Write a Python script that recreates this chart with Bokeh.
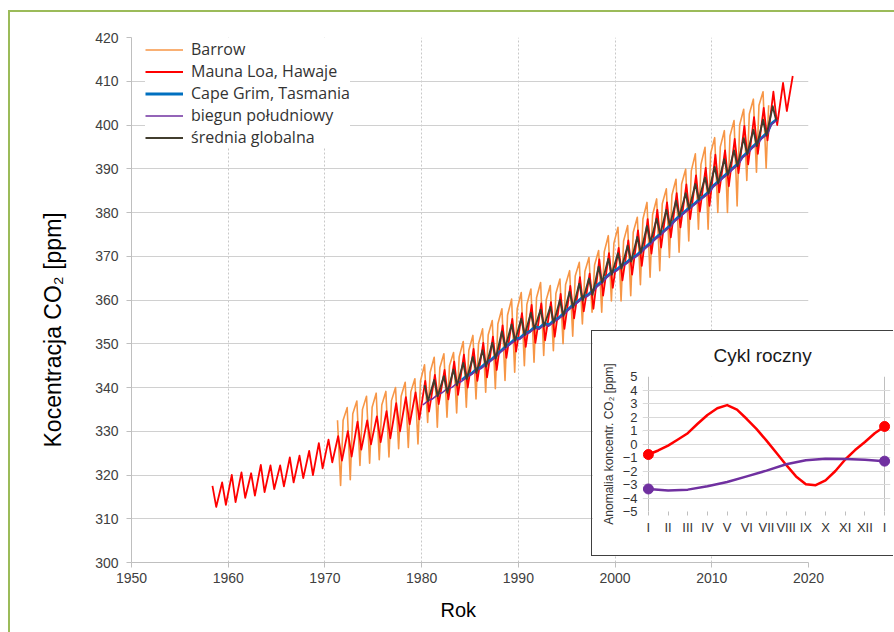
from bokeh.plotting import figure
from bokeh.models import Range1d, FixedTicker, Legend, LegendItem, Title
from bokeh.layouts import column
from bokeh.embed import file_html
from bokeh.resources import INLINE

# ---------------- main chart data ----------------
X_TICKS = [1950, 1960, 1970, 1980, 1990, 2000, 2010, 2020]
Y_TICKS = [300, 310, 320, 330, 340, 350, 360, 370, 380, 390, 400, 410, 420]

# Mauna Loa, Hawaje: yearly maximum (May) and minimum (Sep/Oct), from 1958
ML_FIRST_YEAR = 1958
ML_PEAK = [317.5, 318.3, 320.0, 320.6, 320.4, 322.3, 322.2, 322.2, 324.0, 324.4,
           325.5, 327.3, 328.1, 328.9, 330.0, 332.2, 332.5, 333.4, 334.6, 336.4,
           337.8, 338.9, 341.5, 342.9, 344.0, 345.9, 347.5, 348.8, 350.2, 351.6,
           354.2, 355.7, 357.0, 358.9, 359.2, 359.5, 361.4, 363.2, 365.2, 366.0,
           369.3, 370.7, 371.9, 373.6, 375.9, 378.5, 380.6, 382.3, 384.4, 386.4,
           388.5, 390.2, 393.2, 394.2, 396.8, 399.8, 401.8, 403.9, 407.6, 409.6,
           411.2]
ML_TROUGH = [312.7, 313.2, 313.8, 314.8, 315.3, 316.1, 316.8, 317.4, 318.3, 319.3,
             320.0, 321.5, 322.9, 323.3, 324.2, 325.8, 327.0, 327.5, 328.4, 330.0,
             331.6, 332.7, 334.5, 336.2, 337.3, 338.3, 340.0, 341.5, 342.3, 344.0,
             346.8, 348.2, 349.3, 350.2, 350.8, 351.6, 353.4, 355.8, 357.4, 358.0,
             361.0, 362.8, 364.5, 365.8, 367.8, 370.6, 372.0, 374.3, 376.6, 378.5,
             380.2, 381.5, 384.6, 386.0, 389.0, 391.0, 393.4, 396.5, 400.0, 403.2]
ML_PEAK_POS, ML_TROUGH_POS = 0.37, 0.76

# Barrow: spring maximum, August minimum, November value, from 1971
BRW_FIRST_YEAR = 1971
BRW_PEAK = [332.5, 335.4, 336.9, 338.0, 338.7, 339.1, 340.0, 341.2, 342.0, 345.2,
            346.9, 347.7, 348.0, 350.5, 351.9, 353.4, 355.3, 358.0, 360.2, 361.7,
            362.5, 364.0, 363.3, 364.8, 366.7, 368.6, 369.7, 371.3, 374.7, 376.6,
            377.0, 378.9, 382.3, 383.1, 385.4, 387.6, 389.9, 393.4, 394.9, 397.1,
            398.7, 401.0, 403.6, 405.9, 407.6]
BRW_TROUGH = [317.6, 318.9, 322.2, 322.7, 323.5, 324.1, 326.0, 326.3, 327.1, 332.0,
              330.9, 333.2, 334.2, 335.5, 337.4, 338.9, 339.7, 341.6, 343.5, 345.0,
              345.8, 347.3, 348.4, 350.0, 351.7, 354.5, 357.2, 357.2, 359.8, 359.8,
              361.0, 363.5, 365.2, 366.7, 369.7, 370.9, 373.5, 376.2, 376.2, 380.0,
              380.0, 381.5, 387.3, 389.2, 390.1]
BRW_NOV = [332.5, 334.0, 335.0, 335.5, 336.0, 337.0, 338.0, 339.0, 341.5, 343.5,
           344.5, 345.0, 347.0, 348.5, 350.0, 352.0, 354.5, 356.5, 358.0, 359.0,
           360.5, 360.0, 361.5, 363.5, 365.5, 366.5, 368.0, 371.0, 373.0, 373.5,
           375.5, 378.5, 379.5, 382.0, 384.0, 386.5, 389.5, 391.0, 393.5, 395.0,
           397.5, 400.0, 402.5, 404.5, 404.5]
BRW_PEAK_POS, BRW_TROUGH_POS, BRW_NOV_POS = 0.30, 0.62, 0.88

# Cape Grim, Tasmania: summer minimum, spring maximum, from 1984
CGO_FIRST_YEAR = 1984
CGO_TROUGH = [341.7, 343.2, 344.6, 346.3, 348.3, 350.1, 351.3, 352.8, 353.6, 354.3,
              355.9, 357.9, 359.7, 361.1, 363.4, 365.4, 366.9, 368.5, 370.1, 372.1,
              374.1, 376.0, 378.2, 380.1, 381.9, 383.7, 386.1, 388.1, 390.1, 392.7,
              394.9, 397.1, 400.3]
CGO_PEAK = [342.8, 344.3, 345.7, 347.4, 349.4, 351.2, 352.4, 353.9, 354.7, 355.4,
            357.0, 359.0, 360.8, 362.2, 364.4, 366.5, 368.0, 369.6, 371.2, 373.2,
            375.2, 377.1, 379.3, 381.2, 383.0, 384.8, 387.2, 389.2, 391.2, 393.8,
            396.0, 398.2, 401.3]
CGO_TROUGH_POS, CGO_PEAK_POS = 0.16, 0.72

# biegun poludniowy (South Pole), from 1980
SPO_FIRST_YEAR = 1980
SPO_TROUGH = [336.0, 337.4, 338.8, 340.0, 341.4, 342.9, 344.3, 346.0, 348.0, 349.8,
              351.0, 352.5, 353.3, 354.0, 355.6, 357.6, 359.4, 360.8, 363.0, 365.1,
              366.6, 368.2, 369.8, 371.8, 373.8, 375.7, 377.9, 379.8, 381.6, 383.4,
              385.8, 387.8, 389.8, 392.4, 394.6, 396.8, 400.0]
SPO_PEAK = [337.1, 338.5, 339.9, 341.1, 342.5, 344.0, 345.4, 347.1, 349.1, 350.9,
            352.1, 353.6, 354.4, 355.1, 356.7, 358.7, 360.5, 361.9, 364.1, 366.2,
            367.7, 369.3, 370.9, 372.9, 374.9, 376.8, 379.0, 380.9, 382.7, 384.5,
            386.9, 388.9, 390.9, 393.5, 395.7, 397.9, 401.1]
SPO_TROUGH_POS, SPO_PEAK_POS = 0.12, 0.74

# srednia globalna, from 1980
GLB_FIRST_YEAR = 1980
GLB_PEAK = [340.5, 341.7, 342.6, 344.1, 345.6, 347.0, 348.5, 350.2, 352.8, 354.4,
            355.7, 357.1, 357.8, 358.4, 360.0, 361.9, 363.7, 364.9, 367.6, 369.4,
            370.7, 372.4, 374.4, 376.9, 378.6, 380.6, 382.7, 384.4, 386.5, 388.0,
            390.4, 392.2, 394.2, 397.0, 398.9, 401.2, 404.3]
GLB_TROUGH = [336.9, 338.0, 338.8, 340.5, 341.9, 343.3, 344.8, 346.6, 349.2, 350.7,
              352.0, 353.3, 354.0, 354.8, 356.4, 358.3, 359.9, 361.2, 364.0, 365.8,
              367.2, 368.8, 370.8, 373.2, 375.0, 377.0, 379.1, 380.8, 382.9, 384.4,
              386.7, 388.6, 390.6, 393.3, 395.2, 397.6, 401.0]
GLB_PEAK_POS, GLB_TROUGH_POS = 0.30, 0.66

# ---------------- inset data (annual cycle) ----------------
MONTH_TICKS = [0, 1, 2, 3, 4, 5, 6, 7, 8, 9, 10, 11, 12]
MONTH_LABELS = ["I", "II", "III", "IV", "V", "VI", "VII", "VIII", "IX", "X", "XI", "XII", "I"]
ANOM_TICKS = [-5, -4, -3, -2, -1, 0, 1, 2, 3, 4, 5]
ML_CYCLE_X = [0, 0.5, 1, 1.5, 2, 2.5, 3, 3.5, 4, 4.5, 5, 5.5, 6, 6.5, 7, 7.5, 8,
              8.5, 9, 9.5, 10, 10.5, 11, 11.5, 12]
ML_CYCLE = [-0.78, -0.48, -0.12, 0.33, 0.8, 1.5, 2.15, 2.65, 2.88, 2.55, 1.85, 1.1,
            0.25, -0.65, -1.55, -2.4, -2.98, -3.05, -2.7, -2.0, -1.15, -0.45, 0.15,
            0.8, 1.3]
SPO_CYCLE_X = MONTH_TICKS
SPO_CYCLE = [-3.33, -3.45, -3.38, -3.13, -2.82, -2.4, -1.97, -1.5, -1.2, -1.1,
             -1.12, -1.17, -1.27]

C_BRW = "#F79646"
C_ML = "#FF0000"
C_CGO = "#0070C0"
C_SPO = "#7030A0"
C_GLB = "#423D2E"
FONT = "Liberation Sans"


def series(first_year, parts):
    pts = []
    for offset, vals in parts:
        for i, v in enumerate(vals):
            pts.append((first_year + i + offset, v))
    pts.sort()
    return [q[0] for q in pts], [q[1] for q in pts]


# ---------------- main figure ----------------
p = figure(width=884, height=620, output_backend="svg", toolbar_location=None,
           x_range=Range1d(1950, 2020), y_range=Range1d(300, 420),
           min_border_left=121, min_border_right=86, min_border_top=25,
           min_border_bottom=70, background_fill_color="white",
           border_fill_color="white")
p.outline_line_color = None

bx, by = series(BRW_FIRST_YEAR, [(BRW_PEAK_POS, BRW_PEAK), (BRW_TROUGH_POS, BRW_TROUGH),
                                 (BRW_NOV_POS, BRW_NOV)])
mx, my = series(ML_FIRST_YEAR, [(ML_PEAK_POS, ML_PEAK), (ML_TROUGH_POS, ML_TROUGH)])
cx, cy = series(CGO_FIRST_YEAR, [(CGO_TROUGH_POS, CGO_TROUGH), (CGO_PEAK_POS, CGO_PEAK)])
sx, sy = series(SPO_FIRST_YEAR, [(SPO_TROUGH_POS, SPO_TROUGH), (SPO_PEAK_POS, SPO_PEAK)])
gx, gy = series(GLB_FIRST_YEAR, [(GLB_PEAK_POS, GLB_PEAK), (GLB_TROUGH_POS, GLB_TROUGH)])

r_brw = p.line(bx, by, line_color=C_BRW, line_width=1.6, line_join="round")
r_ml = p.line(mx, my, line_color=C_ML, line_width=1.8, line_join="round")
r_cgo = p.line(cx, cy, line_color=C_CGO, line_width=2.8, line_join="round")
r_spo = p.line(sx, sy, line_color=C_SPO, line_width=1.6, line_join="round")
r_glb = p.line(gx, gy, line_color=C_GLB, line_width=1.9, line_join="round")

p.xaxis.ticker = FixedTicker(ticks=X_TICKS)
p.yaxis.ticker = FixedTicker(ticks=Y_TICKS)
for ax in (p.xaxis, p.yaxis):
    ax.axis_line_color = "#BFBFBF"
    ax.major_tick_line_color = "#BFBFBF"
    ax.minor_tick_line_color = None
    ax.major_tick_in = 0
    ax.major_tick_out = 5
    ax.major_label_text_font = FONT
    ax.major_label_text_font_size = "14px"
    ax.major_label_text_color = "#404040"
p.xaxis.major_label_standoff = 5
p.yaxis.major_label_standoff = 8

p.xgrid.ticker = FixedTicker(ticks=X_TICKS)
p.ygrid.ticker = FixedTicker(ticks=Y_TICKS)
p.xgrid.grid_line_color = "#C8C8C8"
p.xgrid.grid_line_dash = "2 2"
p.ygrid.grid_line_color = "#D0D0D0"

p.add_layout(Title(text="Kocentracja CO₂ [ppm]", align="left", offset=115,
                   text_font=FONT, text_font_size="23px", text_font_style="normal",
                   text_color="black", standoff=53), "left")
p.add_layout(Title(text="Rok", align="left", offset=309,
                   text_font=FONT, text_font_size="20px", text_font_style="normal",
                   text_color="black", standoff=23), "below")

legend = Legend(items=[
    LegendItem(label="Barrow", renderers=[r_brw]),
    LegendItem(label="Mauna Loa, Hawaje", renderers=[r_ml]),
    LegendItem(label="Cape Grim, Tasmania", renderers=[r_cgo]),
    LegendItem(label="biegun południowy", renderers=[r_spo]),
    LegendItem(label="średnia globalna", renderers=[r_glb]),
], location=(14, 414))
legend.margin = 0
legend.padding = 2
legend.spacing = 0
legend.glyph_width = 38
legend.glyph_height = 21
legend.label_height = 21
legend.label_standoff = 8
legend.label_text_font = "Open Sans"
legend.label_text_font_size = "16px"
legend.label_text_color = "#333333"
legend.border_line_color = None
legend.background_fill_color = "white"
legend.background_fill_alpha = 1.0
p.add_layout(legend)

# ---------------- inset figure ----------------
q = figure(width=302, height=226, output_backend="svg", toolbar_location=None,
           x_range=Range1d(-0.3, 12.3), y_range=Range1d(-5, 5),
           min_border_left=50, min_border_right=4, min_border_top=44,
           min_border_bottom=46, background_fill_color="white",
           border_fill_color="white",
           styles={"position": "absolute", "left": "591px", "top": "330px",
                   "border-top": "1.5px solid #404040",
                   "border-left": "1.5px solid #404040",
                   "border-bottom": "1.5px solid #404040"})
q.outline_line_color = None
q.add_layout(Title(text="Cykl roczny", align="left", offset=71, text_font=FONT,
                   text_font_size="19px", text_font_style="normal",
                   text_color="#1A1A1A", standoff=22), "above")

q.line(ML_CYCLE_X, ML_CYCLE, line_color=C_ML, line_width=2.5, line_join="round")
q.line(SPO_CYCLE_X, SPO_CYCLE, line_color=C_SPO, line_width=2.5, line_join="round")
q.scatter([ML_CYCLE_X[0], ML_CYCLE_X[-1]], [ML_CYCLE[0], ML_CYCLE[-1]], size=10,
          marker="circle", fill_color=C_ML, line_color=C_ML)
q.scatter([SPO_CYCLE_X[0], SPO_CYCLE_X[-1]], [SPO_CYCLE[0], SPO_CYCLE[-1]], size=10,
          marker="circle", fill_color=C_SPO, line_color=C_SPO)

q.xaxis.ticker = FixedTicker(ticks=MONTH_TICKS)
q.xaxis.major_label_overrides = {t: lab for t, lab in zip(MONTH_TICKS, MONTH_LABELS)}
q.yaxis.ticker = FixedTicker(ticks=ANOM_TICKS)
for ax in (q.xaxis, q.yaxis):
    ax.axis_line_color = None
    ax.minor_tick_line_color = None
    ax.minor_tick_in = 0
    ax.minor_tick_out = 0
    ax.major_label_text_font = FONT
    ax.major_label_text_font_size = "13px"
    ax.major_label_text_color = "#333333"
q.xaxis.major_tick_line_color = "#BFBFBF"
q.xaxis.major_tick_in = 0
q.xaxis.major_tick_out = 4
q.xaxis.major_label_standoff = 4
q.yaxis.major_tick_line_color = None
q.yaxis.major_tick_in = 0
q.yaxis.major_tick_out = 0
q.yaxis.major_label_standoff = 5
q.yaxis.axis_label = "Anomalia koncentr. CO₂ [ppm]"
q.yaxis.axis_label_text_font = FONT
q.yaxis.axis_label_text_font_size = "12px"
q.yaxis.axis_label_text_font_style = "normal"
q.yaxis.axis_label_text_color = "#333333"
q.yaxis.axis_label_standoff = 4

q.xgrid.ticker = FixedTicker(ticks=[MONTH_TICKS[0], MONTH_TICKS[-1]])
q.xgrid.grid_line_color = "#BFBFBF"
q.ygrid.ticker = FixedTicker(ticks=ANOM_TICKS)
q.ygrid.grid_line_color = "#D9D9D9"

main = column(p, margin=(10, 0, 0, 8),
              styles={"border-left": "2px solid #9BBB59",
                      "border-top": "2px solid #9BBB59"})

open("out.html", "w").write(file_html([main, q], INLINE))
